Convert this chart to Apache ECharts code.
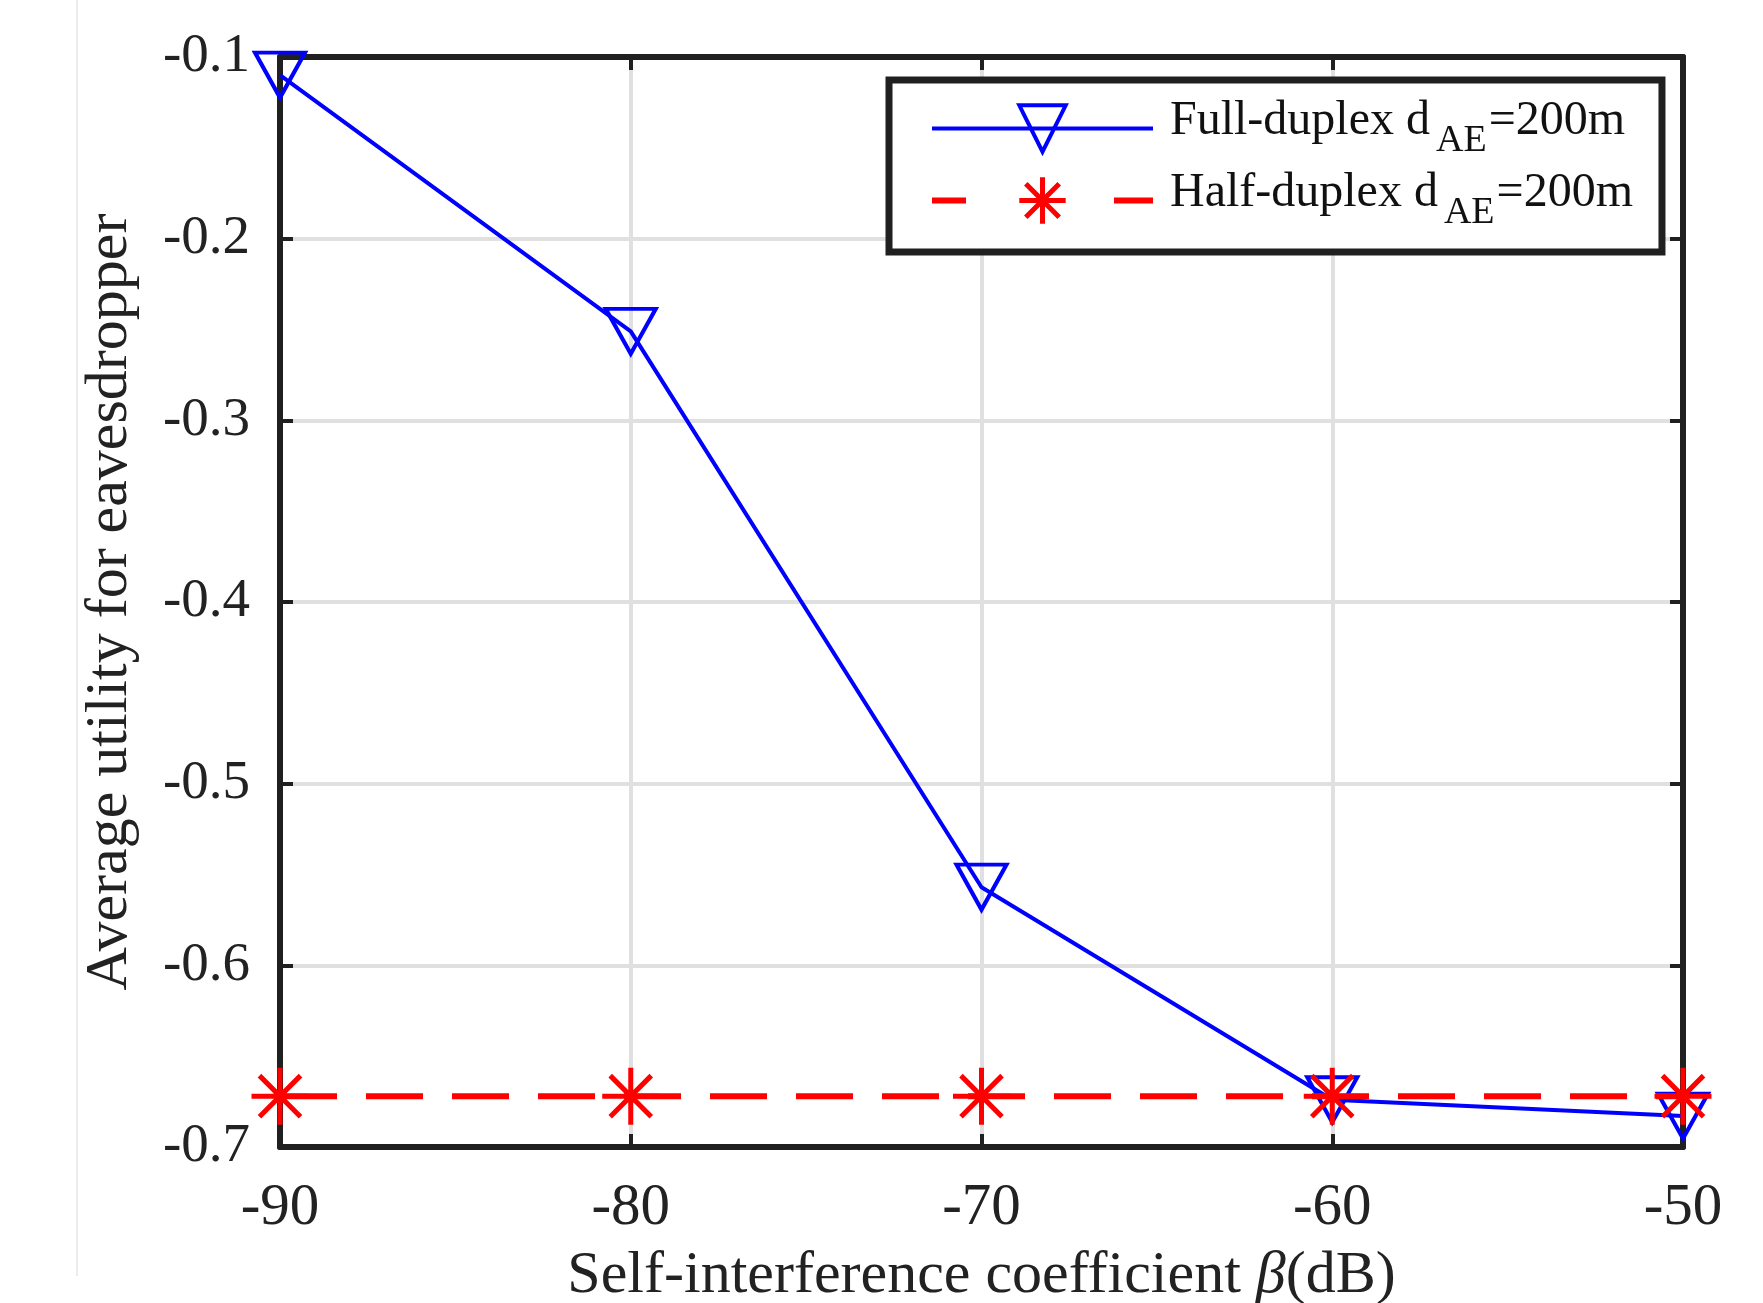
<!DOCTYPE html>
<html>
<head>
<meta charset="utf-8">
<script src="https://cdn.jsdelivr.net/npm/echarts@6/dist/echarts.min.js"></script>
<style>
  html, body { margin: 0; padding: 0; background: #fff; }
  #chart { width: 1763px; height: 1303px; }
</style>
</head>
<body>
<div id="chart"></div>
<script>
  // data
  var betaDb = [-90, -80, -70, -60, -50];
  var fullDuplex = [-0.11, -0.251, -0.557, -0.674, -0.683];
  var halfDuplex = [-0.672, -0.672, -0.672, -0.672, -0.672];
  var yTicks = [-0.7, -0.6, -0.5, -0.4, -0.3, -0.2, -0.1];

  var FONT = '"Liberation Serif", "Times New Roman", serif';
  var BLUE = '#0000ff';
  var RED = '#ff0000';
  var BOX = '#202020';
  var triDown = 'path://M0,0L10,0L5,8.7Z';
  var star = 'path://M-10,0L10,0M0,-10L0,10M-7.2,-7.2L7.2,7.2M-7.2,7.2L7.2,-7.2';

  function pairs(xs, ys) {
    return xs.map(function (x, i) { return [x, ys[i]]; });
  }

  var boxAxis = {
    axisLine: { show: true, onZero: false, lineStyle: { color: BOX, width: 6 } },
    axisTick: { show: true, inside: true, length: 13, lineStyle: { color: BOX, width: 4 } }
  };

  var myChart = echarts.init(document.getElementById('chart'));
  myChart.setOption({
    backgroundColor: '#fff',
    animation: false,
    graphic: [{
      type: 'line',
      shape: { x1: 77, y1: 0, x2: 77, y2: 1276 },
      style: { stroke: '#e6e6e6', lineWidth: 1.5 },
      silent: true
    }],
    grid: { left: 280, right: 80, top: 57, bottom: 156, containLabel: false, outerBoundsMode: 'none' },
    legend: {
      orient: 'vertical',
      left: 889,
      top: 80,
      padding: [7, 29, 20, 40],
      itemGap: -1,
      itemWidth: 221,
      itemHeight: 58,
      backgroundColor: '#fff',
      borderColor: BOX,
      borderWidth: 7,
      borderRadius: 0,
      data: [{
        name: 'Full-duplex dAE=200m',
        itemStyle: { color: 'rgba(0,0,0,0)', borderColor: BLUE, borderWidth: 4 },
        lineStyle: { color: BLUE, width: 4, type: 'solid' }
      }, {
        name: 'Half-duplex dAE=200m',
        itemStyle: { color: 'rgba(0,0,0,0)', borderColor: RED, borderWidth: 5 },
        lineStyle: { color: RED, width: 6, type: [34, 148, 39, 0] }
      }],
      formatter: function (name) {
        var head = name.split(' ')[0];
        return '{f|' + head + ' d}{s|AE}{m|=200m}';
      },
      textStyle: {
        fontFamily: FONT,
        color: '#111',
        rich: {
          f: { fontFamily: FONT, fontSize: 48, color: '#111', lineHeight: 63, verticalAlign: 'top', padding: [0, 0, 0, 12] },
          m: { fontFamily: FONT, fontSize: 48, color: '#111', lineHeight: 63, verticalAlign: 'top' },
          s: { fontFamily: FONT, fontSize: 38, color: '#111', lineHeight: 38, verticalAlign: 'bottom', padding: [35, 2, 0, 6] }
        }
      }
    },
    xAxis: [Object.assign({
      type: 'value',
      min: -90,
      max: -50,
      interval: 10,
      position: 'bottom',
      name: 'Self-interference coefficient {b|β}(dB)',
      nameLocation: 'middle',
      nameGap: 99,
      nameTextStyle: {
        fontFamily: FONT, fontSize: 60, color: '#222',
        rich: { b: { fontFamily: FONT, fontSize: 60, fontStyle: 'italic', color: '#222' } }
      },
      axisLabel: { fontFamily: FONT, fontSize: 59, color: '#222', margin: 32 },
      splitLine: { show: true, lineStyle: { color: '#e0e0e0', width: 4 } }
    }, boxAxis), Object.assign({
      type: 'value',
      min: -90,
      max: -50,
      interval: 10,
      position: 'top',
      axisLabel: { show: false },
      splitLine: { show: false }
    }, boxAxis)],
    yAxis: [Object.assign({
      type: 'value',
      min: yTicks[0],
      max: yTicks[yTicks.length - 1],
      interval: 0.1,
      position: 'left',
      name: 'Average utility for eavesdropper',
      nameLocation: 'middle',
      nameGap: 140,
      nameTextStyle: { fontFamily: FONT, fontSize: 60, color: '#222' },
      axisLabel: {
        fontFamily: FONT, fontSize: 55, color: '#222', margin: 30,
        formatter: function (v) { return (Math.round(v * 10) / 10).toString(); }
      },
      splitLine: { show: true, lineStyle: { color: '#e0e0e0', width: 4 } }
    }, boxAxis), Object.assign({
      type: 'value',
      min: yTicks[0],
      max: yTicks[yTicks.length - 1],
      interval: 0.1,
      position: 'right',
      axisLabel: { show: false },
      splitLine: { show: false }
    }, boxAxis)],
    series: [{
      name: 'Full-duplex dAE=200m',
      type: 'line',
      clip: false,
      z: 3,
      data: pairs(betaDb, fullDuplex),
      symbol: triDown,
      symbolSize: [50, 45],
      showAllSymbol: true,
      lineStyle: { color: BLUE, width: 4 },
      itemStyle: { color: 'rgba(0,0,0,0)', borderColor: BLUE, borderWidth: 4 }
    }, {
      name: 'Half-duplex dAE=200m',
      type: 'line',
      clip: false,
      z: 4,
      data: pairs(betaDb, halfDuplex),
      symbol: star,
      symbolSize: 57,
      showAllSymbol: true,
      lineStyle: { color: RED, width: 6, type: [57, 29] },
      itemStyle: { color: 'rgba(0,0,0,0)', borderColor: RED, borderWidth: 5 }
    }]
  });
</script>
</body>
</html>
